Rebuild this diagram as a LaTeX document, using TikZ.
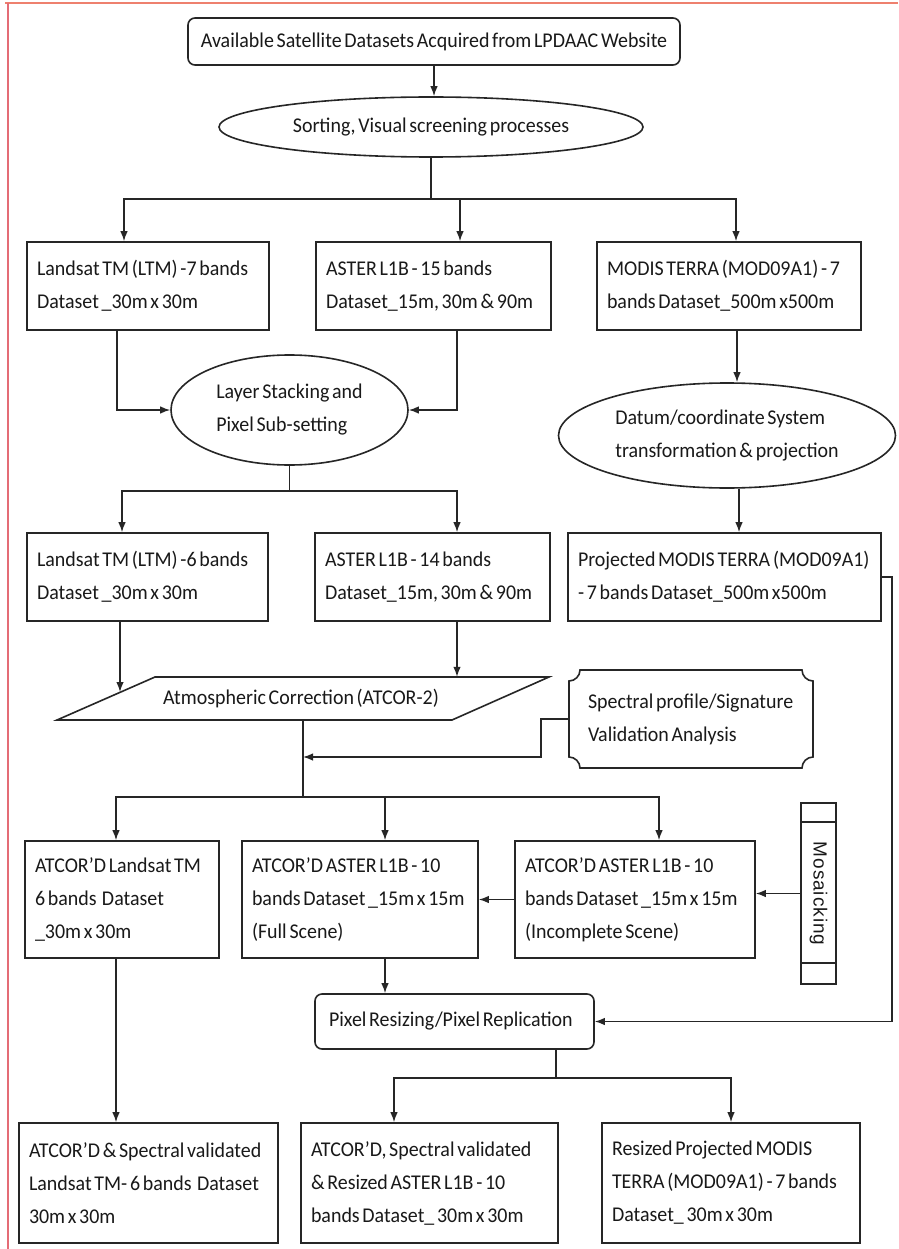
\documentclass[tikz,border=0pt]{standalone}
\usepackage{fontspec}
\setmainfont{Carlito}[FakeStretch=0.95, WordSpace=0.6]
\newfontfamily\mosfont{Liberation Sans}[LetterSpace=5]
\usetikzlibrary{shapes.geometric,arrows.meta,calc}
\begin{document}
\begin{tikzpicture}[x=1pt,y=-1pt,
 every node/.style={font=\fontsize{21}{33}\selectfont, text=black!90},
 box/.style={draw=black!85, line width=1.6pt, rectangle, align=flush left, inner xsep=10pt, inner ysep=0pt},
 rbox/.style={box, rounded corners=7pt},
 oval/.style={draw=black!85, line width=1.6pt, ellipse, inner sep=0pt, align=left},
 arr/.style={draw=black!85, line width=1.4pt, -{Latex[length=10pt,width=7.5pt]}},
 ln/.style={draw=black!85, line width=1.4pt},
 shapeline/.style={draw=black!85, line width=1.6pt},
]
\useasboundingbox (0,0) rectangle (898,1249);
\fill[white] (0,0) rectangle (898,1249);
% frame
\draw[line width=2.5pt, draw={rgb,255:red,238;green,128;blue,110}] (5,3) -- (898,3);
\draw[line width=1.2pt, draw={rgb,255:red,228;green,108;blue,118}] (8,3) -- (8,1249);

% row 0
\node[rbox, align=center, minimum width=492, minimum height=47] (src) at (434,41.5) {Available Satellite Datasets Acquired from LPDAAC Website};
\node[oval, minimum width=424, minimum height=60] (sort) at (431,127) {Sorting, Visual screening processes};

% row 1
\node[box, text width=222, minimum height=88] (lt7) at (148,286) {Landsat TM (LTM) -7 bands\\Dataset \_30m x 30m};
\node[box, text width=215, minimum height=88] (as15) at (433.5,286) {ASTER L1B - 15 bands\\Dataset\_15m, 30m \& 90m};
\node[box, text width=244, minimum height=88] (mod) at (729,286) {MODIS TERRA (MOD09A1) - 7\\bands Dataset\_500m x500m};

\node[oval, minimum width=237, minimum height=110] (stack) at (289.5,410) {Layer Stacking and\\Pixel Sub-setting};
\node[oval, minimum width=337, minimum height=105] (datum) at (727,435.5) {Datum/coordinate System\\transformation \& projection};

% row 2
\node[box, text width=221, minimum height=88] (lt6) at (147.5,577) {Landsat TM (LTM) -6 bands\\Dataset \_30m x 30m};
\node[box, text width=215, minimum height=88] (as14) at (432.5,577) {ASTER L1B - 14 bands\\Dataset\_15m, 30m \& 90m};
\node[box, text width=293, minimum height=88] (pmod) at (724.5,577) {Projected MODIS TERRA (MOD09A1)\\- 7 bands Dataset\_500m x500m};

% atmospheric correction parallelogram
\coordinate (p1) at (155,677);
\coordinate (p2) at (549,677);
\coordinate (p3) at (452,720);
\coordinate (p4) at (57,720);
\draw[shapeline] (p1) -- (p2) -- (p3) -- (p4) -- cycle;
\node[inner sep=0pt, minimum height=43] (atm) at (301,698.5) {Atmospheric Correction (ATCOR-2)};

% spectral plaque
\draw[shapeline] (580,670) -- (802,670) .. controls (802,676) and (807,681) .. (813,681)
  -- (813,757) .. controls (807,757) and (802,762) .. (802,768)
  -- (580,768) .. controls (580,762) and (575,757) .. (569,757)
  -- (569,681) .. controls (575,681) and (580,676) .. (580,670) -- cycle;
\node[align=flush left, inner xsep=19pt, inner ysep=0pt, text width=206, minimum height=98] (spec) at (691,719) {Spectral profile/Signature\\Validation Analysis};

% row 3
\node[box, text width=174, minimum height=117] (alt) at (122,899.5) {ATCOR’D Landsat TM\\6 bands\ \ Dataset\\\_30m x 30m};
\node[box, text width=216, minimum height=117] (aaf) at (360,899.5) {ATCOR’D ASTER L1B - 10\\bands Dataset \_15m x 15m\\(Full Scene)};
\node[box, text width=220, minimum height=117] (aai) at (635,899.5) {ATCOR’D ASTER L1B - 10\\bands Dataset \_15m x 15m\\(Incomplete Scene)};

% mosaicking
\node[shapeline, rectangle, minimum width=35, minimum height=181, inner sep=0pt] (mos) at (818.5,893.5) {\rotatebox{-90}{\mosfont\fontsize{19}{22}\selectfont Mosaicking}};
\draw[shapeline] ([yshift=-20]mos.north west) -- ([yshift=-20]mos.north east);
\draw[shapeline] ([yshift=22]mos.south west) -- ([yshift=22]mos.south east);

% pixel resizing
\node[rbox, inner xsep=14pt, text width=251, minimum height=55] (pix) at (454.5,1021.5) {Pixel Resizing/Pixel Replication};

% final row
\node[box, text width=239, minimum height=120] (flt) at (148.5,1183) {ATCOR’D \& Spectral validated\\Landsat TM- 6 bands\ \ Dataset\\30m x 30m};
\node[box, text width=237, minimum height=120] (fas) at (429.5,1183) {ATCOR’D, Spectral validated\\\& Resized ASTER L1B - 10\\bands Dataset\_ 30m x 30m};
\node[box, text width=238, minimum height=120] (fmod) at (731,1183) {Resized Projected MODIS\\TERRA (MOD09A1) - 7 bands\\Dataset\_ 30m x 30m};

% connectors
\draw[arr] (src.south) -- (src.south |- sort.north);
\coordinate (j1) at (431,199);
\draw[ln] (sort.south) -- (j1);
\draw[arr] (j1) -| ([xshift=-24]lt7.north);
\draw[arr] (j1) -| ([xshift=26.5]as15.north);
\draw[arr] (j1) -| ([xshift=7]mod.north);

\draw[arr] ([xshift=-31]lt7.south) |- (stack.west);
\draw[arr] ([xshift=23.5]as15.south) |- (stack.east);
\coordinate (j2) at (289.5,491);
\draw[ln] (stack.south) -- (j2);
\draw[arr] (j2) -| ([xshift=-25.5]lt6.north);
\draw[arr] (j2) -| ([xshift=24.5]as14.north);

\draw[arr] ([xshift=8]mod.south) -- ([xshift=8]mod.south |- datum.north);
\draw[arr] ([xshift=12]datum.south) -- ([xshift=14.5]pmod.north);

\coordinate (atmL) at (120,692);
\draw[arr] ([xshift=-27.5]lt6.south) -- (atmL);
\draw[arr] ([xshift=24.5]as14.south) -- ([xshift=24.5]as14.south |- atm.north);

\coordinate (j3) at (303,797);
\draw[ln] (atm.south -| j3) -- (j3);
\draw[arr] (j3) -| ([xshift=-6]alt.north);
\draw[arr] (j3) -| ([xshift=25]aaf.north);
\draw[arr] (j3) -| ([xshift=24]aai.north);

\coordinate (j4) at (303,757);
\draw[arr] (spec.west) -- ++(-28,0) |- (j4);

\draw[arr] (aai.west) -- (aaf.east);
\draw[arr] (mos.west) -- (mos.west -| aai.east);
\draw[arr] (pmod.east) -- ++(10,0) |- (pix.east);
\draw[arr] ([xshift=25]aaf.south) -- ([xshift=25]aaf.south |- pix.north);

\coordinate (j5) at (556,1078);
\draw[ln] (pix.south -| j5) -- (j5);
\draw[arr] (j5) -| ([xshift=-35.5]fas.north);
\draw[arr] (j5) -| (fmod.north);
\draw[arr] ([xshift=-6]alt.south) -- ([xshift=-6]alt.south |- flt.north);
\end{tikzpicture}
\end{document}
